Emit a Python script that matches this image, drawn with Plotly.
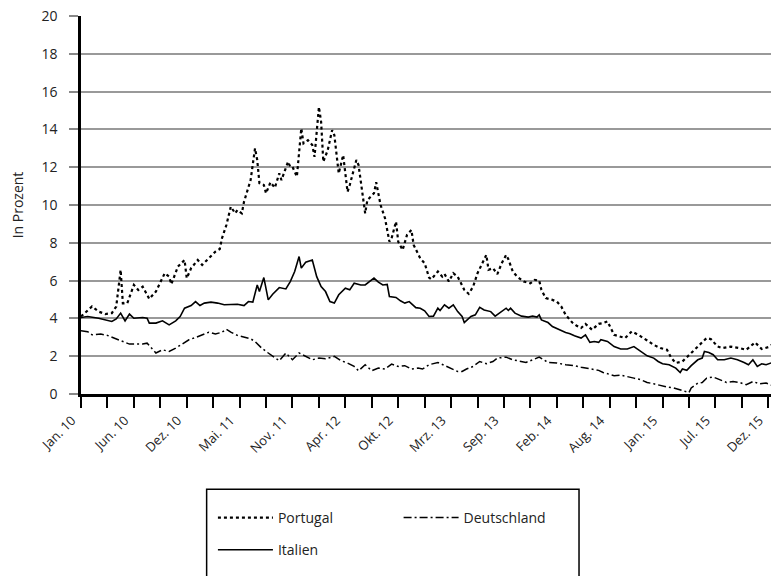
import pandas as pd
import plotly.graph_objects as go

START = "2010-01-01"

# weeks since 1 Jan 2010 and yields (%)
pt_weeks = [0,5,8,11,14,16,18,19,21,24,26,28,31,34,38,40,41,44,47,48,50,53,55,58,61,63,64,66,68,70,71,73,74,77,79,80,81,83,84,86,88,90,91,94,95,96,98,100,101,103,105,106,108,109,110,112,114,115,117,119,121,122,125,126,129,130,133,134,136,138,140,141,143,144,146,148,150,151,154,156,158,159,162,164,165,167,169,171,174,176,178,180,182,184,185,187,189,191,193,194,196,198,201,204,206,208,209,211,214,216,218,220,223,225,227,229,232,235,237,239,242,245,247,250,253,257,260,263,266,268,270,273,275,278,281,284,286,289,291,295,299,302,306,309,312,315,317]
pt_vals = [4.1,4.63,4.36,4.23,4.28,4.63,6.57,4.8,4.8,5.77,5.5,5.68,5.03,5.42,6.39,6.21,5.81,6.74,7.09,6.13,6.66,7.09,6.83,7.18,7.53,7.67,8.24,8.94,9.91,9.56,9.73,9.56,10.17,11.32,13.0,12.38,11.15,11.06,10.62,11.2,10.91,11.67,11.32,12.29,12.02,12.02,11.5,14.05,13.26,13.43,13.17,12.55,15.19,14.4,12.29,12.9,13.96,13.7,11.67,12.64,10.7,11.06,12.38,12.11,9.56,10.26,10.62,11.2,10.0,9.3,8.06,8.24,9.12,8.06,7.62,8.42,8.68,7.89,7.18,6.92,6.16,6.07,6.48,6.21,6.35,5.95,6.39,6.21,5.51,5.3,5.68,6.39,6.92,7.36,6.57,6.66,6.35,6.92,7.36,7.13,6.48,6.21,5.95,5.86,6.04,6.0,5.51,5.07,4.98,4.89,4.63,4.19,3.78,3.61,3.49,3.71,3.4,3.71,3.75,3.84,3.13,3.01,2.96,3.31,3.13,2.83,2.6,2.43,2.34,1.9,1.64,1.72,1.95,2.25,2.6,2.96,2.9,2.51,2.43,2.51,2.43,2.34,2.73,2.38,2.48,2.69,2.87]

it_weeks = [0,3,8,11,14,16,18,20,22,24,28,30,31,34,37,40,43,45,47,50,52,54,56,59,62,65,68,71,74,76,78,80,81,83,85,87,90,93,95,97,99,100,102,105,107,109,111,113,115,117,120,122,124,127,129,133,135,137,139,140,143,145,147,149,152,154,156,158,160,162,163,165,167,169,171,173,174,177,179,181,183,186,188,191,193,194,195,197,200,203,205,207,208,209,212,214,217,220,222,224,227,229,231,233,235,236,239,242,245,248,251,254,257,260,262,264,267,270,272,273,275,277,280,282,283,285,287,289,292,295,298,301,303,305,307,309,311,314,316,317]
it_vals = [4.05,4.1,4.01,3.92,3.84,3.97,4.28,3.87,4.23,4.01,4.05,4.01,3.75,3.75,3.87,3.66,3.87,4.1,4.54,4.68,4.89,4.68,4.81,4.86,4.81,4.72,4.75,4.75,4.68,4.89,4.86,5.77,5.42,6.16,4.98,5.28,5.63,5.56,5.95,6.48,7.27,6.66,6.97,7.09,6.21,5.68,5.42,4.89,4.81,5.25,5.6,5.51,5.86,5.77,5.77,6.13,5.92,5.77,5.8,5.16,5.11,4.93,4.81,4.89,4.57,4.54,4.4,4.1,4.12,4.54,4.42,4.72,4.54,4.72,4.36,4.1,3.78,4.1,4.19,4.59,4.45,4.36,4.12,4.36,4.54,4.42,4.54,4.28,4.12,4.07,4.12,4.07,4.19,3.92,3.78,3.57,3.4,3.25,3.19,3.08,2.96,3.13,2.73,2.78,2.73,2.87,2.78,2.51,2.38,2.38,2.51,2.25,2.02,1.9,1.72,1.6,1.55,1.37,1.14,1.32,1.25,1.5,1.81,1.9,2.25,2.2,2.08,1.81,1.81,1.9,1.81,1.67,1.55,1.81,1.46,1.6,1.55,1.67,1.46,1.37]

de_weeks = [0,3,5,9,12,15,19,22,25,28,30,32,34,37,40,43,46,49,52,55,58,61,64,66,68,71,74,77,79,82,85,88,90,93,96,99,102,105,108,111,115,118,121,124,126,129,132,135,138,141,144,147,150,153,155,158,162,165,168,171,173,175,178,181,184,187,189,193,196,199,202,205,208,212,216,220,224,227,230,233,235,237,239,242,245,248,251,254,257,260,263,266,269,273,276,277,280,282,284,287,290,293,296,299,302,305,308,311,314,317]
de_vals = [3.34,3.3,3.13,3.17,3.1,2.96,2.78,2.64,2.64,2.64,2.69,2.43,2.17,2.34,2.25,2.43,2.64,2.87,2.99,3.13,3.27,3.17,3.27,3.43,3.27,3.1,2.99,2.92,2.78,2.43,2.17,1.9,1.76,2.17,1.81,2.17,1.99,1.81,1.9,1.86,1.99,1.76,1.64,1.46,1.23,1.55,1.23,1.37,1.32,1.58,1.46,1.5,1.32,1.37,1.32,1.55,1.67,1.5,1.32,1.19,1.19,1.32,1.46,1.72,1.6,1.72,1.9,1.95,1.81,1.72,1.67,1.81,1.95,1.67,1.64,1.55,1.5,1.42,1.37,1.32,1.25,1.14,1.07,0.97,1.0,0.9,0.84,0.76,0.61,0.54,0.44,0.37,0.32,0.19,0.08,0.32,0.58,0.61,0.84,0.9,0.76,0.61,0.66,0.61,0.49,0.66,0.54,0.58,0.44,0.32]

tick_labels = ["Jan. 10", "Jun. 10", "Dez. 10", "Mai. 11", "Nov. 11", "Apr. 12", "Okt. 12",
               "Mrz. 13", "Sep. 13", "Feb. 14", "Aug. 14", "Jan. 15", "Jul. 15", "Dez. 15"]
y_ticks = list(range(0, 21, 2))


def to_dates(weeks):
    return pd.Timestamp(START) + pd.to_timedelta([w * 7 for w in weeks], unit="D")


FONT = "Open Sans"

fig = go.Figure()
fig.add_trace(go.Scatter(x=to_dates(pt_weeks), y=pt_vals, mode="lines", name="Portugal",
                         line=dict(color="black", width=2.2, dash="dot"), legend="legend"))
fig.add_trace(go.Scatter(x=to_dates(de_weeks), y=de_vals, mode="lines", name="Deutschland",
                         line=dict(color="black", width=1.5, dash="8px,3px,2px,3px"), legend="legend2"))
fig.add_trace(go.Scatter(x=to_dates(it_weeks), y=it_vals, mode="lines", name="Italien",
                         line=dict(color="black", width=1.6), legend="legend3"))

# tick marks every 12 weeks, labels every 24 weeks
tickvals = to_dates([12 * i for i in range(2 * len(tick_labels) - 1)])
ticktext = []
for lab in tick_labels:
    ticktext += [lab, ""]
ticktext = ticktext[:len(tickvals)]

leg_common = dict(font=dict(family=FONT, size=14, color="#222"), bgcolor="rgba(0,0,0,0)",
                  itemwidth=55, yanchor="middle", xanchor="left")

# the page body adds an 8px offset, so the figure is 8px smaller on each axis
fig.update_layout(
    width=771, height=568,
    margin=dict(l=73, r=0, t=8, b=182, autoexpand=False),
    plot_bgcolor="white", paper_bgcolor="white",
    font=dict(family=FONT, size=14, color="#222"),
    showlegend=True,
    legend=dict(x=0.189, y=-0.328, **leg_common),
    legend2=dict(x=0.455, y=-0.328, **leg_common),
    legend3=dict(x=0.189, y=-0.413, **leg_common),
    xaxis=dict(
        type="date",
        range=[pd.Timestamp(START), pd.Timestamp("2016-01-28")],
        tickvals=tickvals, ticktext=ticktext, tickangle=-45,
        ticks="outside", ticklen=11, tickwidth=2, tickcolor="black",
        ticklabelshift=-9, ticklabeloverflow="allow",
        showline=True, linecolor="black", linewidth=2.5,
        showgrid=False, zeroline=False,
        tickfont=dict(family=FONT, size=13, color="#222"),
    ),
    yaxis=dict(
        range=[0, 20], tickvals=y_ticks,
        ticks="outside", ticklen=9, tickwidth=1.5, tickcolor="#888",
        ticklabelstandoff=9, ticklabeloverflow="allow",
        showline=True, linecolor="black", linewidth=2.5,
        showgrid=True, gridcolor="#999", gridwidth=1.5, zeroline=False,
        tickfont=dict(family=FONT, size=14, color="#222"),
        title=dict(text="In Prozent", font=dict(family=FONT, size=14, color="#222"), standoff=19),
    ),
    shapes=[dict(type="rect", xref="paper", yref="paper",
                 x0=0.180, x1=0.7135, y0=-0.252, y1=-0.62,
                 line=dict(color="black", width=1.5), fillcolor="rgba(0,0,0,0)", layer="below")],
)

fig.write_html("out.html")
